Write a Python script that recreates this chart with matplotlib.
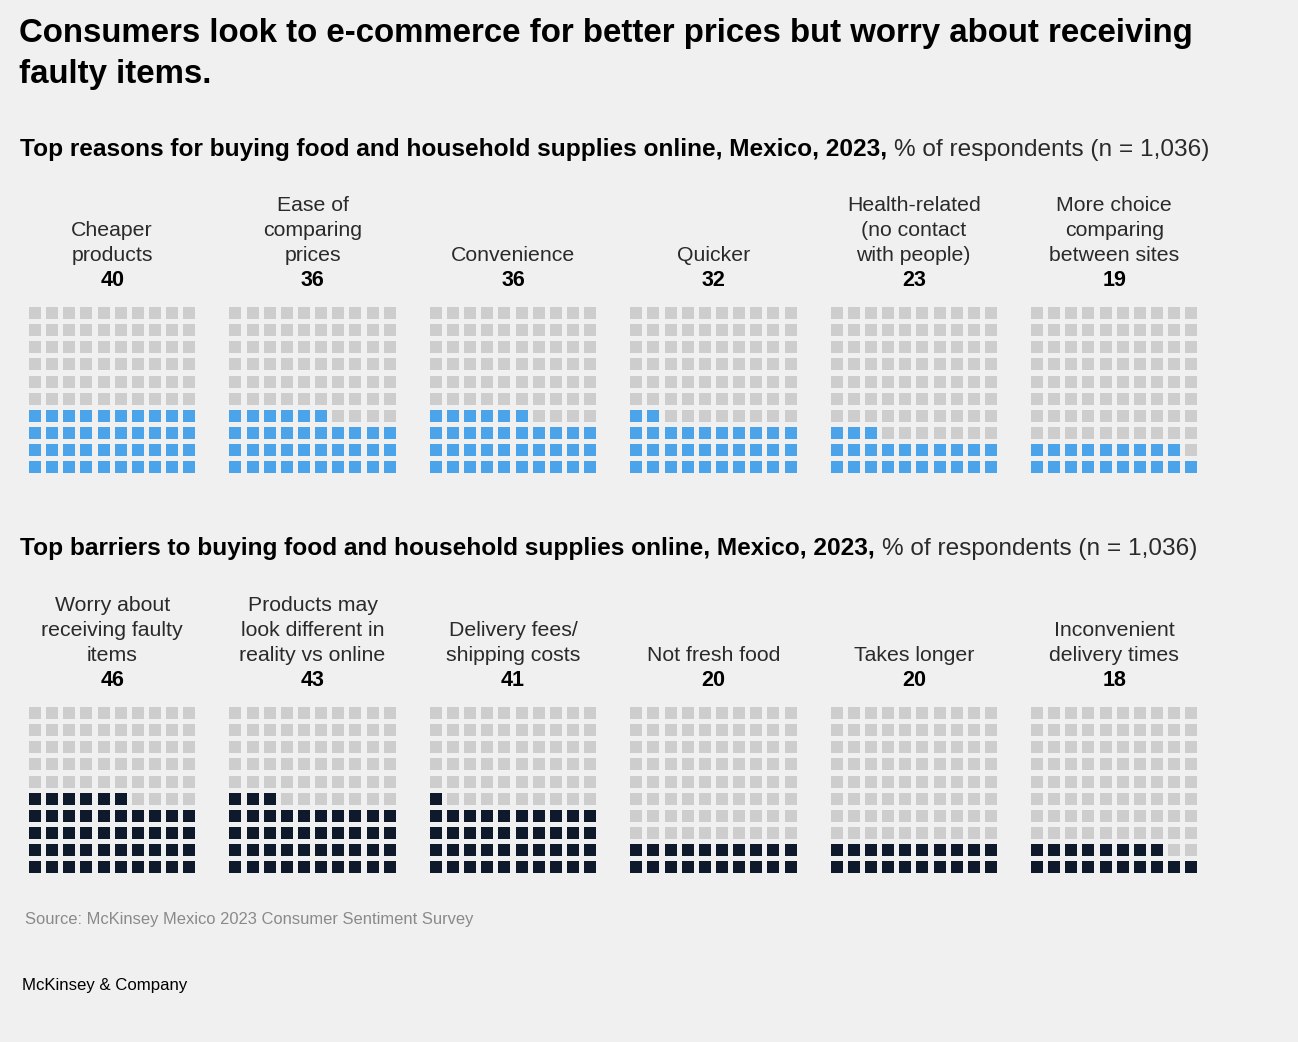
import matplotlib
matplotlib.use("Agg")
import matplotlib.pyplot as plt
from matplotlib.patches import Rectangle

plt.rcParams['font.family'] = ['Liberation Sans', 'DejaVu Sans']

title = ["Consumers look to e-commerce for better prices but worry about receiving",
         "faulty items."]
sub_bold = ["Top reasons for buying food and household supplies online, Mexico, 2023,",
            "Top barriers to buying food and household supplies online, Mexico, 2023,"]
sub_reg = "% of respondents (n = 1,036)"

reasons = ["Cheaper\nproducts", "Ease of\ncomparing\nprices", "Convenience", "Quicker",
           "Health-related\n(no contact\nwith people)", "More choice\ncomparing\nbetween sites"]
reason_vals = [40, 36, 36, 32, 23, 19]

barriers = ["Worry about\nreceiving faulty\nitems", "Products may\nlook different in\nreality vs online",
            "Delivery fees/\nshipping costs", "Not fresh food", "Takes longer",
            "Inconvenient\ndelivery times"]
barrier_vals = [46, 43, 41, 20, 20, 18]

source = "Source: McKinsey Mexico 2023 Consumer Sentiment Survey"
brand = "McKinsey & Company"

BG = "#f0f0f0"
GREY = "#cdcdcd"
BLUE = "#4ba3ea"
NAVY = "#0e1a2b"

W, H = 1298, 1042
fig = plt.figure(figsize=(W / 100, H / 100), dpi=100, facecolor=BG)
ax = fig.add_axes([0, 0, 1, 1])
ax.set_xlim(0, W)
ax.set_ylim(H, 0)
ax.axis("off")

# title, one line at a time
for i, line in enumerate(title):
    ax.text(19, 42 + 41 * i, line, fontsize=23.8, fontweight="bold", ha="left", va="baseline",
            color="black")

pitch = 17.15
sq = 12
x0 = 29
gap = 200.4


def panel(labels, vals, color, sub, top, sub_y, num_y):
    t = ax.text(20, sub_y, sub, fontsize=17.6, fontweight="bold", ha="left", va="baseline")
    ax.annotate(sub_reg, xy=(1, 0), xycoords=t, xytext=(5, 0), textcoords="offset points",
                ha="left", va="bottom", fontsize=17.6, color="#2a2a2a")
    for k, (lab, v) in enumerate(zip(labels, vals)):
        left = x0 + k * gap
        cx = left + (9 * pitch + sq) / 2
        ax.text(cx, num_y, str(v), fontsize=15.5, fontweight="bold", ha="center", va="baseline")
        lines = lab.split("\n")
        for j, ln in enumerate(lines):
            ax.text(cx, num_y - 25 * (len(lines) - j), ln, fontsize=15.3, ha="center",
                    va="baseline", color="#2a2a2a")
        # waffle: filled from bottom-left, row by row
        for i in range(100):
            r = i // 10
            c = i % 10
            y = top + (9 - r) * pitch
            col = color if i < v else GREY
            ax.add_patch(Rectangle((left + c * pitch, y), sq, sq, facecolor=col, edgecolor="none"))


panel(reasons, reason_vals, BLUE, sub_bold[0], 307, 156, 286)
panel(barriers, barrier_vals, NAVY, sub_bold[1], 707, 555, 686)

ax.text(25, 924, source, fontsize=11.9, color="#8a8a8a", ha="left", va="baseline")
ax.text(22, 990, brand, fontsize=12.1, color="black", ha="left", va="baseline")

fig.savefig("out.png", dpi=100, facecolor=BG)
